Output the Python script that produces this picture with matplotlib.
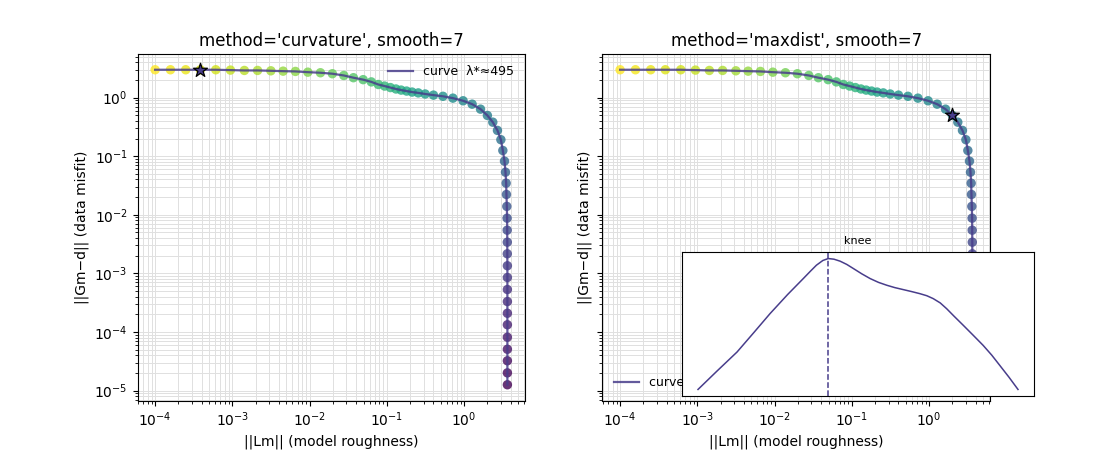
import numpy as np
import matplotlib.pyplot as plt

# L-curve: ||Lm|| (model roughness) and ||Gm-d|| (data misfit), large lambda -> small lambda
norm_lm = [1.0e-4, 1.58e-4, 2.49e-4, 3.85e-4, 6.1e-4, 9.44e-4, 1.43e-3, 2.12e-3,
           3.15e-3, 4.54e-3, 6.55e-3, 9.48e-3, 1.38e-2, 1.97e-2, 2.77e-2, 3.69e-2,
           4.93e-2, 6.29e-2, 7.75e-2, 9.35e-2, 0.111, 0.131, 0.153, 0.180, 0.212,
           0.255, 0.313, 0.401, 0.532, 0.716, 0.97, 1.27, 1.63, 2.00, 2.35, 2.70,
           2.99, 3.17, 3.33, 3.43, 3.50, 3.53, 3.57, 3.60, 3.61, 3.62, 3.62, 3.63,
           3.63, 3.63, 3.63, 3.63, 3.63, 3.63, 3.63, 3.63, 3.63, 3.63]
norm_res = [2.98, 2.98, 2.98, 2.98, 2.98, 2.94, 2.90, 2.90, 2.86, 2.82, 2.79, 2.71,
            2.65, 2.55, 2.38, 2.18, 2.02, 1.85, 1.67, 1.57, 1.48, 1.40, 1.34, 1.29,
            1.24, 1.20, 1.15, 1.10, 1.05, 0.977, 0.881, 0.771, 0.634, 0.495, 0.380,
            0.275, 0.191, 0.125, 0.0822, 0.0533, 0.0346, 0.0222, 0.0139, 8.75e-3,
            5.46e-3, 3.41e-3, 2.16e-3, 1.35e-3, 8.51e-4, 5.31e-4, 3.31e-4, 2.09e-4,
            1.33e-4, 8.15e-5, 5.08e-5, 3.23e-5, 2.01e-5, 1.26e-5]

# chosen corner index per method
idx_curv = 3
idx_maxd = 33
lam_curv = 495
lam_maxd = 3.2

# curvature along the curve (inset)
knee_t = [0.0, 0.06, 0.122, 0.175, 0.225, 0.28, 0.329, 0.352, 0.370, 0.390, 0.407,
          0.425, 0.444, 0.465, 0.486, 0.512, 0.538, 0.564, 0.590, 0.615, 0.641,
          0.667, 0.693, 0.715, 0.735, 0.757, 0.777, 0.800, 0.829, 0.860, 0.891,
          0.918, 0.943, 0.972, 1.0]
knee_k = [0.0, 0.142, 0.286, 0.436, 0.579, 0.725, 0.847, 0.905, 0.949, 0.985, 1.0,
          0.995, 0.980, 0.955, 0.923, 0.883, 0.847, 0.818, 0.796, 0.778, 0.763,
          0.748, 0.732, 0.716, 0.694, 0.661, 0.617, 0.560, 0.490, 0.414, 0.337,
          0.262, 0.184, 0.093, 0.0]
knee_peak = 0.407

line_col = "darkslateblue"

fig, (ax1, ax2) = plt.subplots(1, 2, figsize=(11, 4.5), dpi=100, sharey=True)

colores = np.arange(len(norm_lm))[::-1]
paneles = [(ax1, "curvature", idx_curv, lam_curv, "upper right"),
           (ax2, "maxdist", idx_maxd, lam_maxd, "lower left")]

for ax, metodo, k, lam, loc in paneles:
    ax.scatter(norm_lm, norm_res, c=colores, cmap="viridis", s=46, alpha=0.8,
               linewidths=0, zorder=2)
    ax.plot(norm_lm, norm_res, color=line_col, lw=1.6, alpha=0.85, zorder=3,
            label=f"curve  λ*≈{lam:g}")
    ax.scatter([norm_lm[k]], [norm_res[k]], marker="*", s=110, color=line_col,
               edgecolor="black", linewidth=0.9, zorder=4)
    ax.set_xscale("log")
    ax.set_yscale("log")
    ax.grid(True, which="both", color="0.88", linewidth=0.7)
    ax.set_axisbelow(True)
    ax.set_title(f"method='{metodo}', smooth=7", fontsize=12)
    ax.set_xlabel("||Lm|| (model roughness)")
    ax.set_ylabel("||Gm−d|| (data misfit)")
    ax.legend(loc=loc, frameon=False, fontsize=9)

ax2.tick_params(labelleft=False)

# inset with the curvature (knee) function
axin = fig.add_axes([0.62, 0.12, 0.32, 0.32])
axin.plot(knee_t, knee_k, color=line_col, lw=1.1)
axin.axvline(knee_peak, color=line_col, lw=1.1, ls="--")
axin.set_xticks([])
axin.set_yticks([])
axin.set_title("knee", fontsize=8)

fig.savefig("out.png", dpi=100)
